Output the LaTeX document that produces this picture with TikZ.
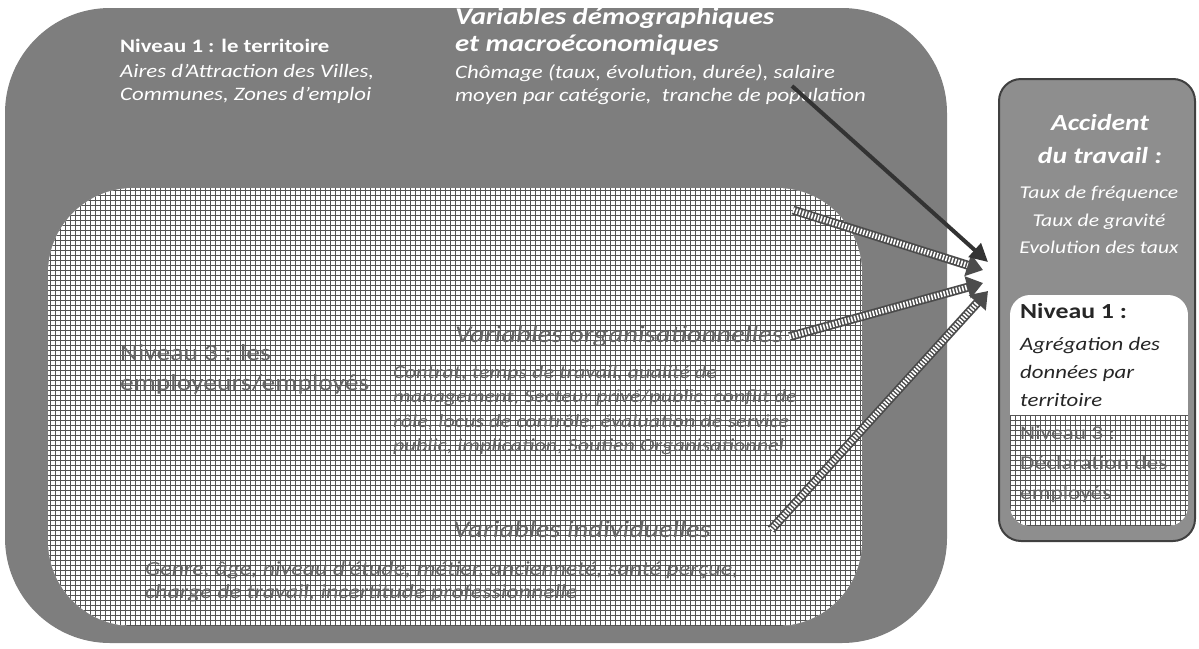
\documentclass[tikz,border=0pt]{standalone}
\usepackage{fontspec}
\setmainfont{Carlito}[FakeStretch=1.2]
\usetikzlibrary{arrows.meta}
\definecolor{outergray}{HTML}{7E7E7E}
\definecolor{boxgray}{HTML}{8E8E8E}
\definecolor{hatchink}{HTML}{555555}
\definecolor{ghostink}{HTML}{666666}
\tikzset{
  title/.style={font=\bfseries\fontsize{19}{24}\selectfont, text=white, anchor=north west, inner sep=0pt},
  vartitle/.style={font=\bfseries\itshape\fontsize{24}{27}\selectfont, text=white, anchor=north west, align=left, inner sep=0pt},
  body/.style={font=\itshape\fontsize{19}{23}\selectfont, text=white, anchor=north west, align=left, inner sep=0pt},
  ghosttitle/.style={font=\fontsize{23}{30}\selectfont, text=ghostink, anchor=north west, align=left, inner sep=0pt},
  ghostvar/.style={font=\itshape\fontsize{24}{25}\selectfont, text=ghostink, anchor=north west, inner sep=0pt},
  ghostbody/.style={font=\itshape\fontsize{18.5}{24.5}\selectfont, text=ghostink, anchor=north west, align=left, inner sep=0pt},
  gridline/.style={draw=hatchink, line width=0.8pt},
  accbox/.style={draw=black!75, line width=2pt, fill=boxgray, rounded corners=22pt, minimum width=196pt, minimum height=462pt},
  solidarrow/.style={draw=black!80, line width=4pt, -{Triangle[length=18pt,width=18pt]}},
  hatcharrow/.style={draw=black!70, line width=9pt, -{Triangle[length=16pt,width=22pt]},
    postaction={draw=white, line width=5.5pt, dash pattern=on 1.6pt off 1.6pt, -, shorten >=16pt}}
}
\begin{document}
\begin{tikzpicture}[x=1pt, y=-1pt]
  \useasboundingbox (0,0) rectangle (1199,648);
  % territoire
  \fill[outergray, rounded corners=105pt] (5,8) rectangle (947,643);
  \begin{scope}
    \clip[rounded corners=85pt] (48,188) rectangle (862,626);
    \fill[white] (48,188) rectangle (862,626);
    \draw[gridline] (48,188) grid[step=5pt] (862,626);
  \end{scope}
  \node[title] (lvlone) at (120,39) {Niveau 1 : le territoire};
  \node[body] (lvlonetxt) at (120,64) {Aires d’Attraction des Villes,\\Communes, Zones d’emploi};
  \node[vartitle] (demovar) at (455,7) {Variables démographiques\\et macroéconomiques};
  \node[body] (demotxt) at (455,64) {Chômage (taux, évolution, durée), salaire\\moyen par catégorie,~ tranche de population};
  % employeurs/employes
  \node[ghosttitle] (lvlthree) at (120,344) {Niveau 3 : les\\employeurs/employés};
  \node[ghostvar] (orgvar) at (455,326) {Variables organisationnelles};
  \node[ghostbody] (orgtxt) at (393,365) {Contrat, temps de travail, qualité de\\management, Secteur privé/public, conflit de\\rôle, locus de contrôle, évaluation de service\\public, implication, Soutien Organisationnel};
  \node[ghostvar] (indvar) at (453,521) {Variables individuelles};
  \node[ghostbody, font=\itshape\fontsize{20}{23}\selectfont] (indtxt) at (145,561) {Genre, âge, niveau d’étude, métier, ancienneté, santé perçue,\\charge de travail, incertitude professionnelle};
  % accident du travail
  \node[accbox] (acc) at (1097,310) {};
  \begin{scope}
    \clip[rounded corners=20pt] (1010,295) rectangle (1188,526);
    \fill[white] (1010,295) rectangle (1188,526);
    \draw[gridline] (1010,415) grid[step=5pt] (1188,526);
  \end{scope}
  \node[vartitle, anchor=north, align=center, font=\bfseries\itshape\fontsize{23}{33}\selectfont] (acctitle) at (1100,114) {Accident\\du travail :};
  \node[body, anchor=north, align=center, font=\itshape\fontsize{18}{27.5}\selectfont] (acctxt) at (1099,186) {Taux de fréquence\\Taux de gravité\\Evolution des taux};
  \node[title, text=black!85, font=\bfseries\fontsize{21.5}{24}\selectfont] (aggr) at (1020,303) {Niveau 1 :};
  \node[body, text=black!85, font=\itshape\fontsize{19}{28}\selectfont] (aggrtxt) at (1020,337) {Agrégation des\\données par\\territoire};
  \node[ghosttitle, font=\fontsize{19.5}{30}\selectfont] (decl) at (1020,426) {Niveau 3 :\\Déclaration des\\employés};
  % fleches
  \coordinate (demoout) at (792,86);
  \coordinate (secout) at (793,210);
  \coordinate (tgta) at (988,262);
  \coordinate (tgtb) at (983,270);
  \coordinate (tgtc) at (983,283);
  \coordinate (tgtd) at (988,291);
  \draw[hatcharrow] (secout) -- (tgtb);
  \draw[hatcharrow] ([xshift=6pt]orgvar.east) -- (tgtc);
  \draw[hatcharrow] ([xshift=60pt]indvar.east) -- (tgtd);
  \draw[solidarrow] (demoout) -- (tgta);
\end{tikzpicture}
\end{document}
